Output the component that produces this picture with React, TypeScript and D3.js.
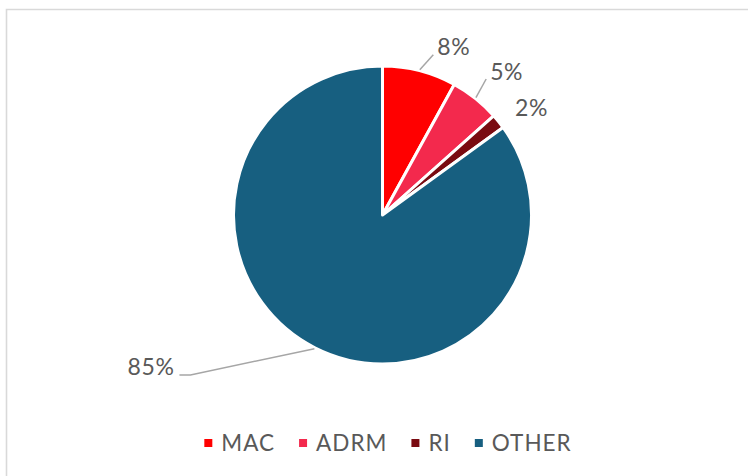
import React, { useEffect, useRef } from "react";
import * as d3 from "d3";

const categories = ["MAC", "ADRM", "RI", "OTHER"];
const values = [8.0, 5.4, 1.6, 85.0];
const labels = ["8%", "5%", "2%", "85%"];
const colors = ["#ff0000", "#f3294d", "#7a0b11", "#175f80"];

const W = 748;
const H = 476;

export default function App() {
  const ref = useRef<SVGSVGElement | null>(null);

  useEffect(() => {
    const svg = d3.select(ref.current);
    svg.selectAll("*").remove();

    const font = "Lato, 'Noto Sans', sans-serif";
    const textColor = "#595959";

    // chart border (only top and left visible)
    svg
      .append("path")
      .attr("d", `M6.5,${H + 2} L6.5,9.5 L${W + 2},9.5`)
      .attr("fill", "none")
      .attr("stroke", "#d9d9d9")
      .attr("stroke-width", 1.6);

    const cx = 382.5;
    const cy = 215;
    const r = 149;

    const pie = d3
      .pie<number>()
      .sort(null)
      .value((d) => d);
    const arcs = pie(values);
    const arc = d3.arc<d3.PieArcDatum<number>>().innerRadius(0).outerRadius(r);

    const g = svg.append("g").attr("transform", `translate(${cx},${cy})`);
    g.selectAll("path.slice")
      .data(arcs)
      .enter()
      .append("path")
      .attr("class", "slice")
      .attr("d", arc)
      .attr("fill", (_, i) => colors[i])
      .attr("stroke", "#ffffff")
      .attr("stroke-width", 3)
      .attr("stroke-linejoin", "round");

    const polar = (ang: number, rad: number): [number, number] => [
      Math.sin(ang) * rad,
      -Math.cos(ang) * rad,
    ];

    // label layout: [angle offset (deg), radius of leader end, text dx, text dy, anchor, leader?, horizontal tail]
    const layout: [number, number, number, number, string, boolean, number][] = [
      [3.2, 168, 4, 0, "start", true, 0],
      [-1.2, 171, 4, 1, "start", true, 0],
      [3, 184, 0, 9, "middle", false, 0],
      [23.2, 250, -5, 0, "end", true, -11],
    ];

    arcs.forEach((a, i) => {
      const mid = (a.startAngle + a.endAngle) / 2;
      const [dAng, rEnd, tdx, tdy, anchor, leader, tail] = layout[i];
      const p0 = polar(mid, r + 1);
      const p1 = polar(mid + (dAng * Math.PI) / 180, rEnd);
      if (leader) {
        const pts: [number, number][] = [p0, p1];
        if (tail !== 0) pts.push([p1[0] + tail, p1[1]]);
        g.append("path")
          .attr("d", d3.line()(pts) as string)
          .attr("fill", "none")
          .attr("stroke", "#a6a6a6")
          .attr("stroke-width", 1.5);
      }
      const tx = p1[0] + tail + tdx;
      g.append("text")
        .attr("x", tx)
        .attr("y", p1[1] + tdy)
        .attr("text-anchor", anchor)
        .attr("font-family", font)
        .attr("font-size", 23)
        .attr("letter-spacing", 0.6)
        .attr("fill", textColor)
        .text(labels[i]);
    });

    // legend
    const legend = svg.append("g");
    const items = legend
      .selectAll("g.item")
      .data(categories)
      .enter()
      .append("g")
      .attr("class", "item");
    items
      .append("rect")
      .attr("width", 8)
      .attr("height", 8)
      .attr("y", 439)
      .attr("fill", (_, i) => colors[i]);
    items
      .append("text")
      .attr("x", 17)
      .attr("y", 451)
      .attr("font-family", font)
      .attr("font-size", 22.5)
      .attr("letter-spacing", 1)
      .attr("fill", textColor)
      .text((d) => d);

    const widths: number[] = [];
    items.each(function () {
      const t = d3.select(this).select("text").node() as SVGTextElement;
      widths.push(17 + t.getComputedTextLength());
    });
    const gap = 24;
    const total = d3.sum(widths) + gap * (widths.length - 1);
    let x = 388 - total / 2;
    items.each(function (_, i) {
      d3.select(this).attr("transform", `translate(${x},0)`);
      x += widths[i] + gap;
    });
  }, []);

  return (
    <svg
      ref={ref}
      width={W}
      height={H}
      style={{ position: "absolute", left: 0, top: 0, background: "#fff" }}
    />
  );
}
